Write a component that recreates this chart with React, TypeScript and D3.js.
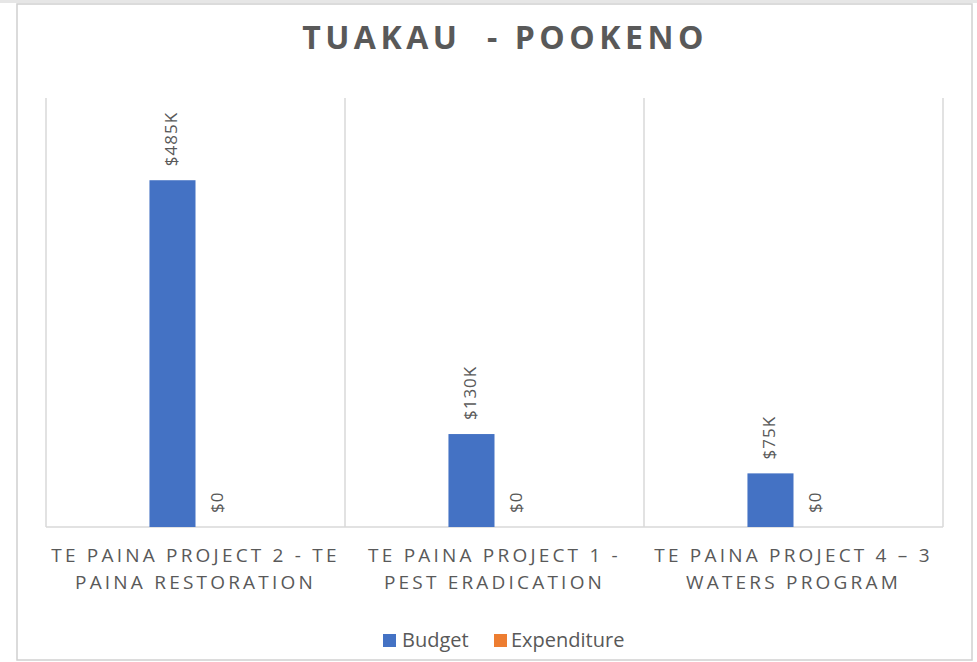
import React from "react";
import * as d3 from "d3";

const categories = ["P2", "P1", "P4"];
const categoryLines = [
  ["TE PAINA PROJECT 2 - TE", "PAINA RESTORATION"],
  ["TE PAINA PROJECT 1 -", "PEST ERADICATION"],
  ["TE PAINA PROJECT 4 \u2013 3", "WATERS PROGRAM"],
];
const seriesNames = ["Budget", "Expenditure"];
const seriesColors = ["#4472C4", "#ED7D31"];
const budget = [485000, 130000, 75000];
const expenditure = [0, 0, 0];
const labelBudget = ["$485K", "$130K", "$75K"];
const labelExpenditure = ["$0", "$0", "$0"];
const title = "TUAKAU  - POOKENO";

const W = 977;
const H = 662;
const plotLeft = 46;
const plotRight = 943;
const plotTop = 98;
const plotBottom = 527;
const grey = "#595959";
const lineGrey = "#d9d9d9";
const font = "'Open Sans', sans-serif";

export default function App() {
  const x = d3.scaleBand<string>().domain(categories).range([plotLeft, plotRight]).padding(0);
  const bw = x.bandwidth();
  const barW = bw * 0.154;
  const inner = d3
    .scaleBand<string>()
    .domain(seriesNames)
    .range([bw / 2 - barW, bw / 2 + barW])
    .padding(0);
  const y = d3.scaleLinear().domain([0, 600000]).range([plotBottom, plotTop]);
  const values = [budget, expenditure];
  const labels = [labelBudget, labelExpenditure];

  return (
    <svg
      width={W}
      height={H}
      style={{ position: "absolute", left: 0, top: 0, background: "#fff" }}
      fontFamily={font}
    >
      <rect x={0} y={0} width={W} height={3} fill="#e6e6e6" />
      <rect x={17} y={4} width={955} height={656} fill="#fff" stroke="#d0d0d0" strokeWidth={1.5} />
      <text
        x={505}
        y={49}
        textAnchor="middle"
        fontSize={32}
        fontWeight={700}
        letterSpacing={4.5}
        fill={grey}
        style={{ whiteSpace: "pre" }}
      >
        {title}
      </text>
      {[...categories.map((c) => x(c) as number), plotRight].map((px, i) => (
        <line key={i} x1={px} x2={px} y1={plotTop} y2={plotBottom} stroke={lineGrey} strokeWidth={1.5} />
      ))}
      <line x1={plotLeft} x2={plotRight} y1={plotBottom} y2={plotBottom} stroke={lineGrey} strokeWidth={1.5} />
      {seriesNames.map((s, si) =>
        categories.map((c, ci) => {
          const bx = (x(c) as number) + (inner(s) as number);
          const v = values[si][ci];
          const top = y(v);
          const cx = bx + inner.bandwidth() / 2;
          return (
            <g key={s + c}>
              {v > 0 && (
                <rect x={bx} y={top} width={inner.bandwidth()} height={plotBottom - top} fill={seriesColors[si]} />
              )}
              <text
                transform={`translate(${cx},${top - 14}) rotate(-90)`}
                textAnchor="start"
                dominantBaseline="middle"
                fontSize={17}
                letterSpacing={1}
                fill={grey}
              >
                {labels[si][ci]}
              </text>
            </g>
          );
        })
      )}
      {categories.map((c, ci) => (
        <text
          key={c}
          x={(x(c) as number) + bw / 2}
          textAnchor="middle"
          fontSize={19}
          letterSpacing={3.2}
          fill={grey}
        >
          {categoryLines[ci].map((ln, li) => (
            <tspan key={li} x={(x(c) as number) + bw / 2} y={562 + li * 27}>
              {ln}
            </tspan>
          ))}
        </text>
      ))}
      <g>
        <rect x={383} y={634} width={13} height={13} fill={seriesColors[0]} />
        <text x={402} y={647} fontSize={20} fill={grey}>
          {seriesNames[0]}
        </text>
        <rect x={494} y={634} width={13} height={13} fill={seriesColors[1]} />
        <text x={511} y={647} fontSize={20} fill={grey}>
          {seriesNames[1]}
        </text>
      </g>
    </svg>
  );
}
